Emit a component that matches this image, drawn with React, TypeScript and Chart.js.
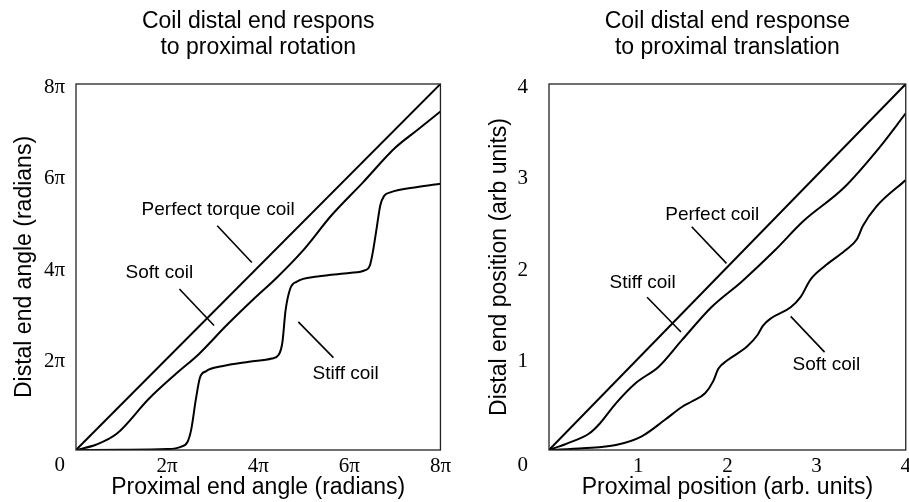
import React, { useEffect, useRef } from "react";
import { Chart, registerables } from "chart.js";
Chart.register(...registerables);

// ---------- Left panel: rotation (values in units of π) ----------
const rotPerfectX = [0, 8];
const rotPerfectY = [0, 8];
const rotSoftX = [0, 0.45, 0.9, 1.6, 2.2, 2.7, 3.3, 3.9, 4.4, 5.0, 5.6, 6.3, 7.0, 7.5, 8.0];
const rotSoftY = [0, 0.12, 0.36, 1.12, 1.67, 2.1, 2.72, 3.3, 3.76, 4.38, 5.12, 5.85, 6.6, 7.0, 7.4];
const rotStiffX = [0, 1.0, 2.0, 2.3, 2.45, 2.53, 2.63, 2.72, 2.85, 3.2, 3.8, 4.3, 4.45, 4.53, 4.6, 4.7, 4.85, 5.3, 6.0, 6.35, 6.45, 6.52, 6.6, 6.68, 6.76, 6.9, 7.5, 8.0];
const rotStiffY = [0, 0.005, 0.02, 0.07, 0.18, 0.45, 1.1, 1.58, 1.72, 1.83, 1.93, 2.0, 2.08, 2.35, 3.05, 3.52, 3.68, 3.79, 3.87, 3.93, 4.03, 4.35, 4.85, 5.35, 5.55, 5.63, 5.75, 5.82];
const rotTickValues = [0, 2, 4, 6, 8];
const rotTickLabels = ["0", "2π", "4π", "6π", "8π"];
const rotLabelText = ["Perfect torque coil", "Soft coil", "Stiff coil"];
const rotLabelX = [3.12, 1.83, 5.92];
const rotLabelY = [5.25, 3.88, 1.67];
const rotPointerX1 = [3.1, 2.27, 4.88];
const rotPointerY1 = [4.9, 3.52, 2.8];
const rotPointerX2 = [3.86, 3.03, 5.65];
const rotPointerY2 = [4.1, 2.72, 2.02];

// ---------- Right panel: translation (arb. units) ----------
const trPerfectX = [0, 4];
const trPerfectY = [0, 4];
const trStiffX = [0, 0.2, 0.45, 0.57, 0.75, 0.97, 1.23, 1.49, 1.82, 2.16, 2.53, 2.85, 3.3, 3.7, 4.0];
const trStiffY = [0, 0.07, 0.18, 0.29, 0.51, 0.73, 0.91, 1.2, 1.56, 1.84, 2.18, 2.5, 2.86, 3.3, 3.68];
const trSoftX = [0, 0.38, 0.75, 1.04, 1.3, 1.49, 1.6, 1.75, 1.84, 1.9, 2.0, 2.22, 2.34, 2.4, 2.49, 2.71, 2.82, 2.93, 3.08, 3.32, 3.45, 3.52, 3.67, 4.0];
const trSoftY = [0, 0.02, 0.055, 0.15, 0.33, 0.47, 0.53, 0.62, 0.75, 0.89, 0.98, 1.13, 1.26, 1.36, 1.44, 1.56, 1.67, 1.86, 2.0, 2.18, 2.3, 2.45, 2.66, 2.95];
const trTickValues = [0, 1, 2, 3, 4];
const trTickLabels = ["0", "1", "2", "3", "4"];
const trLabelText = ["Perfect coil", "Stiff coil", "Soft coil"];
const trLabelX = [1.83, 1.05, 3.11];
const trLabelY = [2.57, 1.83, 0.93];
const trPointerX1 = [1.6, 1.1, 2.71];
const trPointerY1 = [2.44, 1.67, 1.46];
const trPointerX2 = [1.99, 1.48, 3.09];
const trPointerY2 = [2.04, 1.29, 1.07];

const SANS = "'Liberation Sans', Arial, Helvetica, sans-serif";
const SERIF = "'Liberation Serif', 'Times New Roman', serif";

const pts = (xs: number[], ys: number[]) => xs.map((x, i) => ({ x, y: ys[i] }));

const boxPlugin = {
  id: "box",
  afterDraw(chart: any) {
    const { ctx, chartArea: a } = chart;
    ctx.save();
    ctx.strokeStyle = "#222";
    ctx.lineWidth = 1.3;
    ctx.strokeRect(a.left, a.top, a.right - a.left, a.bottom - a.top);
    ctx.restore();
  },
};

const annotPlugin = {
  id: "annot",
  afterDatasetsDraw(chart: any, _args: any, opts: any) {
    const { ctx } = chart;
    const xs = chart.scales.x;
    const ys = chart.scales.y;
    ctx.save();
    ctx.fillStyle = "#000";
    ctx.font = `19px ${SANS}`;
    ctx.textAlign = "center";
    ctx.textBaseline = "middle";
    (opts.text || []).forEach((t: string, i: number) => {
      ctx.fillText(t, xs.getPixelForValue(opts.x[i]), ys.getPixelForValue(opts.y[i]));
    });
    ctx.restore();
  },
};

type PanelSpec = {
  title: string[];
  xTitle: string;
  yTitle: string;
  max: number;
  tickValues: number[];
  tickLabels: string[];
  curves: { x: number[]; y: number[] }[];
  labelText: string[];
  labelX: number[];
  labelY: number[];
  px1: number[];
  py1: number[];
  px2: number[];
  py2: number[];
  yAxisWidth: number;
  padRight: number;
  yTickPad: number;
  yTitlePad: number;
};

function makeConfig(p: PanelSpec): any {
  const datasets: any[] = p.curves.map((c) => ({
    data: pts(c.x, c.y),
    borderColor: "#000",
    borderWidth: 2,
    pointRadius: 0,
    fill: false,
    cubicInterpolationMode: "monotone",
  }));
  p.px1.forEach((_, i) => {
    datasets.push({
      data: pts([p.px1[i], p.px2[i]], [p.py1[i], p.py2[i]]),
      borderColor: "#000",
      borderWidth: 1.6,
      pointRadius: 0,
      fill: false,
    });
  });
  const labelFor = (v: number) => {
    const idx = p.tickValues.indexOf(v);
    return idx >= 0 ? p.tickLabels[idx] : "";
  };
  return {
    type: "line",
    data: { datasets },
    plugins: [boxPlugin, annotPlugin],
    options: {
      responsive: false,
      animation: false,
      layout: { padding: { left: 0, right: p.padRight, top: 0, bottom: 0 } },
      plugins: {
        legend: { display: false },
        tooltip: { enabled: false },
        title: {
          display: true,
          text: p.title,
          color: "#000",
          fullSize: false,
          font: { family: SANS, size: 23, weight: "normal", lineHeight: 26 / 23 },
          padding: { top: 9, bottom: 23 },
        },
        annot: { text: p.labelText, x: p.labelX, y: p.labelY },
      },
      scales: {
        x: {
          type: "linear",
          min: 0,
          max: p.max,
          grid: { display: false, drawTicks: false },
          border: { display: false },
          afterBuildTicks: (s: any) => {
            s.ticks = p.tickValues.map((v) => ({ value: v }));
          },
          afterFit: (s: any) => {
            s.height = 52;
          },
          ticks: {
            color: "#000",
            font: { family: SERIF, size: 21 },
            padding: 4,
            maxRotation: 0,
            autoSkip: false,
            callback: (v: number) => (v === 0 ? "" : labelFor(v)),
          },
          title: {
            display: true,
            text: p.xTitle,
            color: "#000",
            font: { family: SANS, size: 23 },
            padding: { top: 0, bottom: 1 },
          },
        },
        y: {
          type: "linear",
          min: 0,
          max: p.max,
          grid: { display: false, drawTicks: false },
          border: { display: false },
          afterBuildTicks: (s: any) => {
            s.ticks = p.tickValues.map((v) => ({ value: v }));
          },
          afterFit: (s: any) => {
            s.width = p.yAxisWidth;
          },
          ticks: {
            color: "#000",
            font: { family: SERIF, size: 21, lineHeight: 1.15 },
            padding: p.yTickPad,
            labelOffset: 3,
            autoSkip: false,
            callback: (v: number) => (v === 0 ? ["", labelFor(v)] : labelFor(v)),
          },
          title: {
            display: true,
            text: p.yTitle,
            color: "#000",
            font: { family: SANS, size: 23 },
            padding: { top: p.yTitlePad, bottom: 0 },
          },
        },
      },
    },
  };
}

function Panel({ spec, left, width }: { spec: PanelSpec; left: number; width: number }) {
  const ref = useRef<HTMLCanvasElement>(null);
  useEffect(() => {
    if (!ref.current) return;
    const chart = new Chart(ref.current, makeConfig(spec));
    return () => chart.destroy();
  }, []);
  return (
    <canvas
      ref={ref}
      width={width}
      height={502}
      style={{ position: "absolute", left, top: 0, width, height: 502 }}
    />
  );
}

const leftSpec: PanelSpec = {
  title: ["Coil distal end respons", "to proximal rotation"],
  xTitle: "Proximal end angle (radians)",
  yTitle: "Distal end angle (radians)",
  max: 8,
  tickValues: rotTickValues,
  tickLabels: rotTickLabels,
  curves: [
    { x: rotPerfectX, y: rotPerfectY },
    { x: rotSoftX, y: rotSoftY },
    { x: rotStiffX, y: rotStiffY },
  ],
  labelText: rotLabelText,
  labelX: rotLabelX,
  labelY: rotLabelY,
  px1: rotPointerX1,
  py1: rotPointerY1,
  px2: rotPointerX2,
  py2: rotPointerY2,
  yAxisWidth: 76,
  padRight: 12,
  yTickPad: 11,
  yTitlePad: 11,
};

const rightSpec: PanelSpec = {
  title: ["Coil distal end response", "to proximal translation"],
  xTitle: "Proximal position (arb. units)",
  yTitle: "Distal end position (arb units)",
  max: 4,
  tickValues: trTickValues,
  tickLabels: trTickLabels,
  curves: [
    { x: trPerfectX, y: trPerfectY },
    { x: trStiffX, y: trStiffY },
    { x: trSoftX, y: trSoftY },
  ],
  labelText: trLabelText,
  labelX: trLabelX,
  labelY: trLabelY,
  px1: trPointerX1,
  py1: trPointerY1,
  px2: trPointerX2,
  py2: trPointerY2,
  yAxisWidth: 94,
  padRight: 5,
  yTickPad: 21,
  yTitlePad: 31,
};

export default function App() {
  return (
    <div
      style={{
        position: "absolute",
        left: 0,
        top: 0,
        width: 909,
        height: 502,
        overflow: "hidden",
        background: "#fff",
      }}
    >
      <Panel spec={leftSpec} left={0} width={455} />
      <Panel spec={rightSpec} left={455} width={460} />
    </div>
  );
}
